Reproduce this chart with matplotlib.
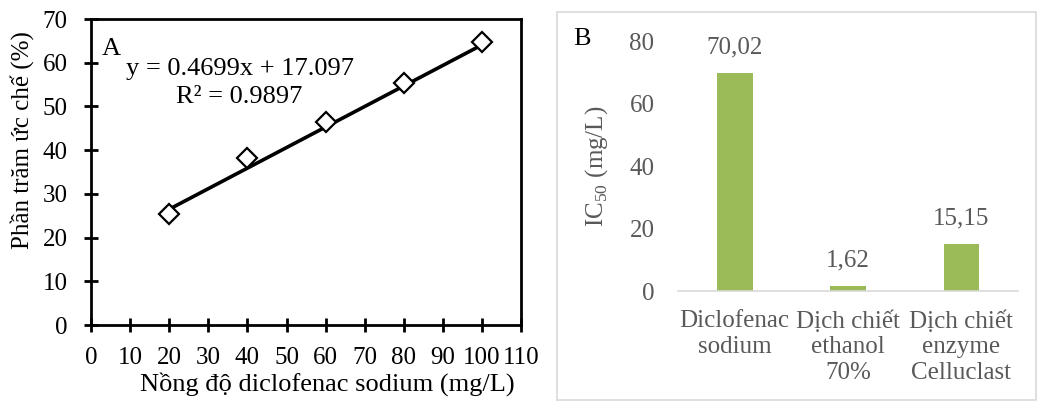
import matplotlib.pyplot as plt
from matplotlib.patches import Rectangle
import numpy as np

plt.rcParams['font.family'] = ['Liberation Serif', 'DejaVu Serif']
plt.rcParams['mathtext.fontset'] = 'custom'
plt.rcParams['mathtext.rm'] = 'Liberation Serif'

# panel A data
conc = [20, 40, 60, 80, 100]
inhibition = [25.5, 38.3, 46.5, 55.3, 64.8]
slope = 0.4699
intercept = 17.097

# panel B data
samples = ['Diclofenac\nsodium', 'Dịch chiết\nethanol\n70%', 'Dịch chiết\nenzyme\nCelluclast']
ic50 = [70.02, 1.62, 15.15]
ic50_labels = ['70,02', '1,62', '15,15']

grey = '#595959'
fig = plt.figure(figsize=(10.38, 4.03), dpi=100)

# ---- A ----
ax = fig.add_axes([0.0877, 0.1935, 0.4143, 0.7593])
x_fit = np.array([conc[0], conc[-1]])
ax.plot(x_fit, slope * x_fit + intercept, color='black', lw=2.6, zorder=2)
ax.plot(conc, inhibition, linestyle='none', marker='D', ms=10.5, mfc='white',
        mec='black', mew=1.6, zorder=3)
ax.set_xlim(0, 110)
ax.set_ylim(0, 70)
ax.set_xticks(range(0, 111, 10))
ax.set_yticks(range(0, 71, 10))
for s in ax.spines.values():
    s.set_linewidth(2)
ax.tick_params(direction='inout', length=10, width=2, labelsize=18)
ax.tick_params(axis='x', pad=11)
ax.tick_params(axis='y', pad=12)
ax.set_xlabel('Nồng độ diclofenac sodium (mg/L)', fontsize=19, labelpad=2)
ax.set_ylabel('Phần trăm ức chế (%)', fontsize=18, labelpad=6)
ax.xaxis.label.set_x(0.549)
ax.yaxis.label.set_y(0.605)
ax.text(0.0256, 0.882, 'A', transform=ax.transAxes, fontsize=19, va='baseline')
ax.text(0.081, 0.817, 'y = 0.4699x + 17.097', transform=ax.transAxes, fontsize=19, va='baseline')
ax.text(0.345, 0.725, 'R² = 0.9897', transform=ax.transAxes, fontsize=19, va='baseline', ha='center')

# ---- B ----
fig.patches.append(Rectangle((0.5366, 0.0074), 0.4615, 0.963, transform=fig.transFigure,
                             fill=False, edgecolor='#D9D9D9', lw=1.2))
bx = fig.add_axes([0.6532, 0.2779, 0.3276, 0.6189])
pos = np.arange(len(samples))
bx.bar(pos, ic50, width=0.315, color='#9BBB59')
for p, v, lab in zip(pos, ic50, ic50_labels):
    bx.annotate(lab, (p, v), xytext=(0, 10.5), textcoords='offset points',
                ha='center', va='bottom', fontsize=18, color=grey)
bx.set_xlim(-0.5, 2.5)
bx.set_ylim(0, 80)
bx.set_yticks(range(0, 81, 20))
bx.set_xticks(pos)
bx.set_xticklabels(samples, linespacing=1.2)
for k in ['top', 'right', 'left']:
    bx.spines[k].set_visible(False)
bx.spines['bottom'].set_color('#D9D9D9')
bx.spines['bottom'].set_linewidth(1.2)
bx.tick_params(length=0, labelsize=18, labelcolor=grey)
bx.tick_params(axis='y', pad=17)
bx.tick_params(axis='x', pad=14)
bx.set_ylabel(r'IC$_{\mathregular{50}}$ (mg/L)', fontsize=18, color=grey, labelpad=14)
fig.text(0.552, 0.888, 'B', fontsize=19, va='baseline')

fig.savefig('out.png', dpi=100)
